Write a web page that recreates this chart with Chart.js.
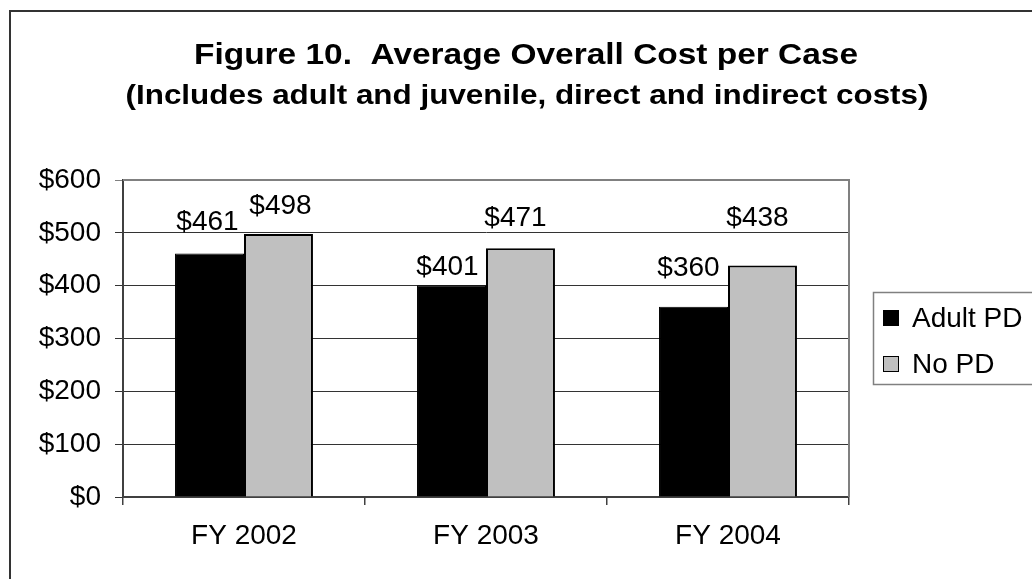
<!DOCTYPE html>
<html>
<head>
<meta charset="utf-8">
<script src="https://cdn.jsdelivr.net/npm/chart.js@4/dist/chart.umd.min.js"></script>
<style>
  html, body { margin: 0; padding: 0; background: #ffffff; }
  #wrap { width: 1032px; height: 579px; }
</style>
</head>
<body>
<div id="wrap"><canvas id="c" width="1032" height="579"></canvas></div>
<script>
// ---- Data ----
const categories = ['FY 2002', 'FY 2003', 'FY 2004'];
const adultPD = [461, 401, 360];
const noPD = [498, 471, 438];
const seriesNames = ['Adult PD', 'No PD'];
const yTicks = [0, 100, 200, 300, 400, 500, 600];
const titleText = 'Figure 10.  Average Overall Cost per Case';
const subtitleText = '(Includes adult and juvenile, direct and indirect costs)';

// label nudges (style): [dx, gap above bar top] per series / category
const labelNudge = [
  [[-2, 23], [-4, 10], [-5, 31]],
  [[2, 20], [-5, 22], [-5, 40]]
];

const FONT = "'Liberation Sans', Arial, sans-serif";

const framePlugin = {
  id: 'frame',
  beforeDraw(chart) {
    const ctx = chart.ctx;
    ctx.save();
    ctx.fillStyle = '#ffffff';
    ctx.fillRect(0, 0, chart.width, chart.height);
    ctx.strokeStyle = '#333333';
    ctx.lineWidth = 2;
    ctx.strokeRect(10, 11, 1100, 700);
    ctx.restore();
  },
  afterDraw(chart) {
    const ctx = chart.ctx;
    const a = chart.chartArea;
    ctx.save();
    // plot area top/right border
    ctx.strokeStyle = '#808080';
    ctx.lineWidth = 2;
    ctx.beginPath();
    ctx.moveTo(a.left, a.top);
    ctx.lineTo(a.right, a.top);
    ctx.lineTo(a.right, a.bottom);
    ctx.stroke();

    // titles (stretched horizontally to match reference proportions)
    ctx.fillStyle = '#000000';
    ctx.textAlign = 'center';
    ctx.textBaseline = 'alphabetic';
    const drawStretched = (text, font, cx, baseline, targetW) => {
      ctx.font = font;
      const w = ctx.measureText(text).width;
      const sx = targetW / w;
      ctx.save();
      ctx.translate(cx, baseline);
      ctx.scale(sx, 1);
      ctx.fillText(text, 0, 0);
      ctx.restore();
    };
    drawStretched(titleText, 'bold 29px ' + FONT, 526, 64, 664);
    drawStretched(subtitleText, 'bold 27px ' + FONT, 527, 104, 803);

    // legend
    ctx.strokeStyle = '#808080';
    ctx.lineWidth = 1.5;
    ctx.strokeRect(873.5, 292.5, 200, 92);
    const items = chart.data.datasets;
    const rowBase = [327, 373];
    ctx.textAlign = 'left';
    ctx.font = '28px ' + FONT;
    items.forEach((ds, i) => {
      const b = rowBase[i];
      ctx.fillStyle = ds.backgroundColor;
      ctx.fillRect(883, b - 17, 16, 16);
      ctx.strokeStyle = '#000000';
      ctx.lineWidth = 1;
      ctx.strokeRect(883.5, b - 16.5, 15, 15);
      ctx.fillStyle = '#000000';
      ctx.fillText(ds.label, 912, b);
    });
    ctx.restore();
  },
  afterDatasetsDraw(chart) {
    const ctx = chart.ctx;
    ctx.save();
    ctx.font = '28px ' + FONT;
    ctx.fillStyle = '#000000';
    ctx.textAlign = 'center';
    ctx.textBaseline = 'alphabetic';
    chart.data.datasets.forEach((ds, i) => {
      const meta = chart.getDatasetMeta(i);
      meta.data.forEach((bar, j) => {
        const n = labelNudge[i][j];
        ctx.fillText('$' + ds.data[j], bar.x + n[0], bar.y - n[1]);
      });
    });
    ctx.restore();
  }
};

new Chart(document.getElementById('c'), {
  type: 'bar',
  data: {
    labels: categories,
    datasets: [
      { label: seriesNames[0], data: adultPD, backgroundColor: '#000000', borderColor: '#000000', borderWidth: 1 },
      { label: seriesNames[1], data: noPD, backgroundColor: '#C0C0C0', borderColor: '#000000', borderWidth: 2 }
    ]
  },
  options: {
    responsive: false,
    animation: false,
    devicePixelRatio: 1,
    categoryPercentage: 0.57,
    barPercentage: 1.0,
    layout: { padding: { top: 180, right: 183, left: 0, bottom: 0 } },
    plugins: {
      legend: { display: false },
      title: { display: false },
      tooltip: { enabled: false }
    },
    scales: {
      x: {
        offset: true,
        grid: { display: true, offset: true, drawOnChartArea: false, drawTicks: true, tickLength: 8, color: '#404040', lineWidth: 1.5 },
        border: { display: true, color: '#404040', width: 2 },
        ticks: { color: '#000000', font: { family: FONT, size: 28 }, padding: 14 },
        afterFit(scale) { scale.height = 82; }
      },
      y: {
        min: yTicks[0],
        max: yTicks[yTicks.length - 1],
        afterBuildTicks(scale) { scale.ticks = yTicks.map(v => ({ value: v })); },
        grid: {
          color: (c) => (c.tick && c.tick.value === 600 ? '#808080' : '#333333'),
          lineWidth: 1,
          drawTicks: true,
          tickLength: 8
        },
        border: { display: true, color: '#404040', width: 2 },
        ticks: {
          color: '#000000',
          font: { family: FONT, size: 28 },
          padding: 14,
          callback: (v) => '$' + v
        },
        afterFit(scale) { scale.width = 123; }
      }
    }
  },
  plugins: [framePlugin]
});
</script>
</body>
</html>
